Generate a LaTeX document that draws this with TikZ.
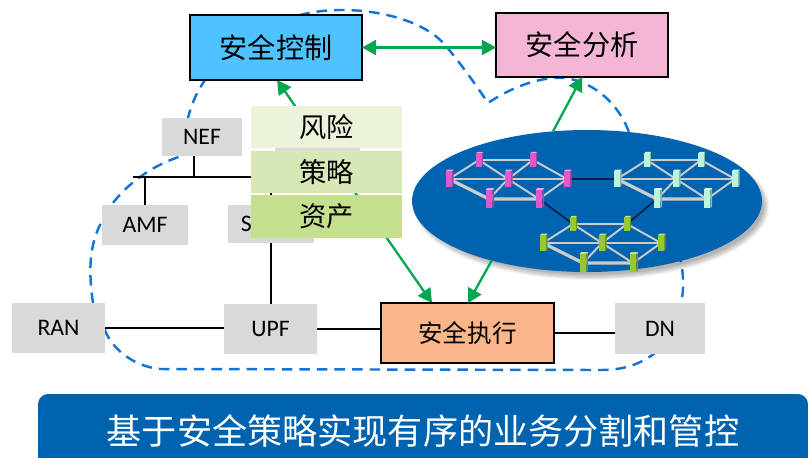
\documentclass[tikz,border=0pt]{standalone}
\usepackage{fontspec}
\setmainfont{Carlito}
\newfontfamily\cjk{Noto Sans CJK SC}
\usepackage{tikz}
\usetikzlibrary{calc, shapes.geometric, shadows.blur, arrows.meta}
\definecolor{CtrlBlue}{RGB}{79, 195, 255}
\definecolor{AnaPink}{RGB}{245, 182, 213}
\definecolor{ExecPeach}{RGB}{248, 182, 138}
\definecolor{BoxGrey}{RGB}{217, 217, 217}
\definecolor{ArrowGreen}{RGB}{0, 166, 80}
\definecolor{CloudBlue}{RGB}{20, 116, 214}
\definecolor{NetBlue}{RGB}{0, 99, 176}
\definecolor{RiskGreen}{RGB}{235, 243, 218}
\definecolor{PolicyGreen}{RGB}{216, 232, 180}
\definecolor{AssetGreen}{RGB}{196, 223, 142}
\definecolor{DevMagenta}{RGB}{220, 90, 205}
\definecolor{DevMint}{RGB}{185, 245, 220}
\definecolor{DevLime}{RGB}{150, 200, 50}
\definecolor{LinkNavy}{RGB}{10, 30, 60}

\pgfdeclarelayer{background}
\pgfsetlayers{background,main}

% equipo de red: caja pequena en perspectiva
\newcommand{\netdev}[3]{% posicion, escala, color
  \begin{scope}[shift={#1}, scale=#2]
    \fill[#3!75!black] (3,-8) -- (4.5,-9.5) -- (4.5,6.5) -- (3,8) -- cycle;
    \fill[#3!55!white] (-3,-8) -- (-1.5,-9.5) -- (4.5,-9.5) -- (3,-8) -- cycle;
    \fill[#3] (-3,-8) rectangle (3,8);
  \end{scope}}

% malla hexagonal de siete equipos
\newcommand{\netcluster}[3]{% nombre, x, y
  \begin{scope}[shift={(#2,#3)}]
    \coordinate (#1-c) at (0,0);
    \coordinate (#1-tl) at (-29,-19);
    \coordinate (#1-tr) at (25,-19);
    \coordinate (#1-l) at (-59,0);
    \coordinate (#1-r) at (59,0);
    \coordinate (#1-bl) at (-19,20);
    \coordinate (#1-br) at (31,20);
    \draw[meshline] (#1-l) -- (#1-tl) -- (#1-tr) -- (#1-r) -- (#1-br) -- (#1-bl) -- cycle;
    \foreach \p in {tl,tr,l,r,bl,br} \draw[meshline] (#1-c) -- (#1-\p);
    \draw[meshline, line width=1.8pt] (#1-l) -- (#1-bl) -- (#1-br);
  \end{scope}}

\newcommand{\netdevices}[2]{% nombre, color
  \foreach \p/\s in {tl/0.85, tr/0.85, l/1, c/1, r/1, bl/1.15, br/1.15}
    \netdev{(#1-\p)}{\s}{#2};}

\begin{document}
\begin{tikzpicture}[x=0.02cm, y=-0.02cm,
    every node/.style={inner sep=0pt, outer sep=0pt},
    >={Triangle[length=8pt, width=8.5pt]},
    mainbox/.style={draw=black, line width=1.1pt, font=\cjk\fontsize{16}{18}\selectfont},
    greybox/.style={fill=BoxGrey, font=\fontsize{13.5}{15}\selectfont},
    tagbox/.style={minimum width=3.02cm, minimum height=0.84cm, font=\cjk\fontsize{15.5}{17}\selectfont},
    wire/.style={black, line width=1.2pt},
    flow/.style={ArrowGreen, line width=1.3pt},
    cloudline/.style={CloudBlue, line width=1.4pt, dash pattern=on 6pt off 4pt},
    meshline/.style={gray!40, line width=1.1pt},
    netlink/.style={LinkNavy, line width=0.9pt}]
    \useasboundingbox (0,0) rectangle (810,457);

    % Bloques de seguridad
    \node[mainbox, fill=CtrlBlue, minimum width=3.44cm, minimum height=1.3cm] (ctrl) at (276,47.5) {安全控制};
    \node[mainbox, fill=AnaPink, minimum width=3.44cm, minimum height=1.28cm] (ana) at (582,45) {安全分析};
    \node[mainbox, fill=ExecPeach, minimum width=3.46cm, minimum height=1.2cm,
          font=\cjk\fontsize{14}{16}\selectfont] (exec) at (467.5,333) {安全执行};

    % Funciones de red
    \node[greybox, minimum width=1.6cm, minimum height=0.76cm] (nef) at (202,137) {NEF};
    \node[greybox, minimum width=1.7cm, minimum height=0.76cm] (nfbox) at (317.5,164) {};
    \node[greybox, minimum width=1.72cm, minimum height=0.8cm] (amf) at (145,225) {AMF};
    \node[greybox, minimum width=1.72cm, minimum height=0.76cm] (smf) at (271,224) {};
    \node[font=\fontsize{13.5}{15}\selectfont] (smftext) at (262,224) {SMF};
    \node[greybox, minimum width=1.86cm, minimum height=1cm] (ran) at (58.5,328) {RAN};
    \node[greybox, minimum width=1.86cm, minimum height=1cm] (upf) at (270.5,329) {UPF};
    \node[greybox, minimum width=1.8cm, minimum height=1.02cm] (dn) at (660,328.5) {DN};

    % Red de servicios
    \node[ellipse, fill=NetBlue, minimum width=7cm, minimum height=2.84cm,
          blur shadow={shadow xshift=2.5pt, shadow yshift=-3pt, shadow blur steps=10, shadow opacity=30}] (netcloud) at (587,201) {};
    \netcluster{mag}{508}{179}
    \netcluster{mint}{676}{179}
    \netcluster{lime}{602}{243}
    \draw[netlink] (mag-r) -- (mint-l);
    \draw[netlink] (mag-br) -- (lime-tl);
    \draw[netlink] (mint-bl) -- (lime-tr);
    \netdevices{mag}{DevMagenta}
    \netdevices{mint}{DevMint}
    \netdevices{lime}{DevLime}

    % Riesgo, politica, activos
    \node[tagbox, fill=RiskGreen] (risk) at (326.5,127) {风险};
    \node[tagbox, fill=PolicyGreen] (policy) at (326.5,172) {策略};
    \node[tagbox, fill=AssetGreen, minimum height=0.86cm] (asset) at (326.5,216.5) {资产};

    % Flechas
    \draw[flow, <->] (ctrl.east) -- (ctrl.east -| ana.west);
    \draw[flow, ->] (netcloud.212) -- ($(exec.north west)+(87,0)$);
    \draw[flow, ->] (netcloud.116) -- (ana.south);

    \begin{pgfonlayer}{background}
        % Contorno de la red
        \draw[cloudline] (93,303)
            .. controls (88,270) and (90,245) .. (100,225)
            .. controls (110,200) and (140,168) .. (185,155)
            -- (188,118)
            .. controls (192,102) and (198,90) .. (205,80)
            -- (300,15)
            .. controls (350,2) and (420,15) .. (445,45)
            .. controls (462,65) and (478,88) .. (488,103)
            .. controls (510,88) and (540,76) .. (565,78)
            .. controls (595,82) and (620,105) .. (630,135)
            -- (680,258)
            .. controls (684,275) and (684,290) .. (681,303)
            -- (655,353)
            .. controls (640,364) and (625,370) .. (600,370)
            -- (160,369)
            .. controls (130,366) and (110,345) .. (105,330)
            -- cycle;

        % Enlaces
        \coordinate (busL) at (133,177);
        \coordinate (busR) at (300,177);
        \coordinate (nefdrop) at ($(nef.south)+(-8,0)$);
        \draw[wire] (busL) -- (busR);
        \draw[wire] (nefdrop) -- (nefdrop |- busL);
        \draw[wire] (amf.north) -- (amf.north |- busL);
        \draw[wire] (smf.north) -- (smf.north |- busL);
        \draw[wire] (smf.south) -- (smf.south |- upf.north);
        \draw[wire] (ran.east) -- (ran.east -| upf.west);
        \draw[wire] (upf.east) -- (upf.east -| exec.west);
        \draw[wire] (exec.east) -- (exec.east -| dn.west);

        \draw[flow, <->] ($(exec.north west)+(51,0)$) -- ($(ctrl.south west)+(87,0)$);
    \end{pgfonlayer}

    % Lema
    \node[fill=NetBlue, rounded corners=0.2cm, minimum width=15.4cm, minimum height=1.48cm,
          text=white, font=\cjk\fontsize{20}{24}\selectfont] (motto) at (423,431) {基于安全策略实现有序的业务分割和管控};
\end{tikzpicture}
\end{document}
